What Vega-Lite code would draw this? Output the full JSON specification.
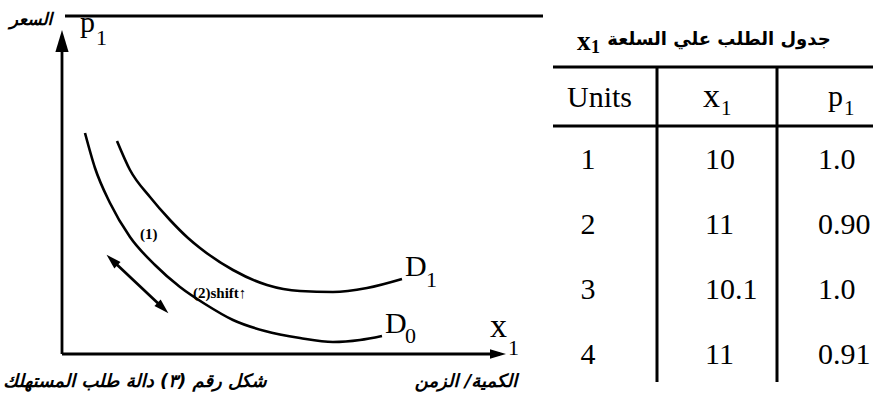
{
  "$schema": "https://vega.github.io/schema/vega-lite/v6.json",
  "background": "white",
  "padding": 0,
  "spacing": 0,
  "bounds": "flush",
  "config": {"view": {"stroke": null}},
  "datasets": {
    "demand": [
      {"curve": "D0", "q": 2.3, "p": 22.1},
      {"curve": "D0", "q": 3.3, "p": 18.6},
      {"curve": "D0", "q": 4.8, "p": 15.1},
      {"curve": "D0", "q": 6.8, "p": 11.7},
      {"curve": "D0", "q": 9.3, "p": 8.9},
      {"curve": "D0", "q": 11.8, "p": 6.7},
      {"curve": "D0", "q": 14.3, "p": 5.0},
      {"curve": "D0", "q": 17.1, "p": 3.4},
      {"curve": "D0", "q": 20.3, "p": 2.3},
      {"curve": "D0", "q": 23.8, "p": 1.6},
      {"curve": "D0", "q": 27.1, "p": 1.2},
      {"curve": "D0", "q": 29.8, "p": 1.4},
      {"curve": "D0", "q": 32.0, "p": 1.8},
      {"curve": "D1", "q": 5.5, "p": 21.3},
      {"curve": "D1", "q": 6.8, "p": 18.4},
      {"curve": "D1", "q": 8.8, "p": 15.7},
      {"curve": "D1", "q": 10.8, "p": 13.4},
      {"curve": "D1", "q": 12.6, "p": 11.6},
      {"curve": "D1", "q": 13.8, "p": 10.6},
      {"curve": "D1", "q": 17.1, "p": 8.4},
      {"curve": "D1", "q": 20.5, "p": 6.9},
      {"curve": "D1", "q": 23.8, "p": 6.3},
      {"curve": "D1", "q": 27.1, "p": 6.2},
      {"curve": "D1", "q": 30.5, "p": 6.6},
      {"curve": "D1", "q": 34.0, "p": 7.5}
    ],
    "schedule": [
      {"units": 1, "x1": "10", "p1": "1.0"},
      {"units": 2, "x1": "11", "p1": "0.90"},
      {"units": 3, "x1": "10.1", "p1": "1.0"},
      {"units": 4, "x1": "11", "p1": "0.91"}
    ]
  },
  "hconcat": [
    {
      "width": 545,
      "height": 402,
      "layer": [
        {
          "data": {"name": "demand"},
          "mark": {"type": "line", "color": "black", "strokeWidth": 2.6, "interpolate": "monotone"},
          "encoding": {
            "x": {"field": "q", "type": "quantitative", "scale": {"domain": [-6.2, 48.3], "nice": false, "zero": false}, "axis": null},
            "y": {"field": "p", "type": "quantitative", "scale": {"domain": [-4.8, 35.4], "nice": false, "zero": false}, "axis": null},
            "detail": {"field": "curve"},
            "order": {"field": "q"}
          }
        },
        {
          "data": {"values": [
            {"part": "price axis", "q": 0, "p": 0, "q2": 0, "p2": 31.5},
            {"part": "quantity axis", "q": 0, "p": 0, "q2": 43.8, "p2": 0},
            {"part": "ceiling", "q": 0.3, "p": 33.8, "q2": 48.1, "p2": 33.8},
            {"part": "movement", "q": 5.0, "p": 9.4, "q2": 10.1, "p2": 4.6}
          ]},
          "mark": {"type": "rule", "color": "black", "strokeWidth": 2.8},
          "encoding": {
            "x": {"field": "q", "type": "quantitative", "scale": {"domain": [-6.2, 48.3], "nice": false, "zero": false}, "axis": null},
            "y": {"field": "p", "type": "quantitative", "scale": {"domain": [-4.8, 35.4], "nice": false, "zero": false}, "axis": null},
            "x2": {"field": "q2"},
            "y2": {"field": "p2"}
          }
        },
        {
          "data": {"values": [{"q": 0, "p": 31.3}]},
          "mark": {"type": "point", "shape": "M0,-1L0.6,1L-0.6,1Z", "filled": true, "color": "black", "opacity": 1, "size": 484, "angle": 0},
          "encoding": {
            "x": {"field": "q", "type": "quantitative", "scale": {"domain": [-6.2, 48.3], "nice": false, "zero": false}, "axis": null},
            "y": {"field": "p", "type": "quantitative", "scale": {"domain": [-4.8, 35.4], "nice": false, "zero": false}, "axis": null}
          }
        },
        {
          "data": {"values": [{"q": 43.6, "p": 0}]},
          "mark": {"type": "point", "shape": "M0,-1L0.6,1L-0.6,1Z", "filled": true, "color": "black", "opacity": 1, "size": 256, "angle": 90},
          "encoding": {
            "x": {"field": "q", "type": "quantitative", "scale": {"domain": [-6.2, 48.3], "nice": false, "zero": false}, "axis": null},
            "y": {"field": "p", "type": "quantitative", "scale": {"domain": [-4.8, 35.4], "nice": false, "zero": false}, "axis": null}
          }
        },
        {
          "data": {"values": [{"q": 10.1, "p": 4.6}]},
          "mark": {"type": "point", "shape": "M0,-1L0.6,1L-0.6,1Z", "filled": true, "color": "black", "opacity": 1, "size": 225, "angle": 133.6},
          "encoding": {
            "x": {"field": "q", "type": "quantitative", "scale": {"domain": [-6.2, 48.3], "nice": false, "zero": false}, "axis": null},
            "y": {"field": "p", "type": "quantitative", "scale": {"domain": [-4.8, 35.4], "nice": false, "zero": false}, "axis": null}
          }
        },
        {
          "data": {"values": [{"q": 5.0, "p": 9.4}]},
          "mark": {"type": "point", "shape": "M0,-1L0.6,1L-0.6,1Z", "filled": true, "color": "black", "opacity": 1, "size": 225, "angle": 313.6},
          "encoding": {
            "x": {"field": "q", "type": "quantitative", "scale": {"domain": [-6.2, 48.3], "nice": false, "zero": false}, "axis": null},
            "y": {"field": "p", "type": "quantitative", "scale": {"domain": [-4.8, 35.4], "nice": false, "zero": false}, "axis": null}
          }
        },
        {
          "data": {"values": [
            {"q": 1.8, "p": 32.2, "t": "p"},
            {"q": 32.3, "p": 2.1, "t": "D"},
            {"q": 34.3, "p": 7.8, "t": "D"}
          ]},
          "mark": {"type": "text", "font": "Liberation Serif", "fontSize": 30, "align": "left", "baseline": "alphabetic", "color": "black"},
          "encoding": {
            "x": {"field": "q", "type": "quantitative", "scale": {"domain": [-6.2, 48.3], "nice": false, "zero": false}, "axis": null},
            "y": {"field": "p", "type": "quantitative", "scale": {"domain": [-4.8, 35.4], "nice": false, "zero": false}, "axis": null},
            "text": {"field": "t"}
          }
        },
        {
          "data": {"values": [{"q": 42.8, "p": 1.7, "t": "x"}]},
          "mark": {"type": "text", "font": "Liberation Serif", "fontSize": 34, "align": "left", "baseline": "alphabetic", "color": "black"},
          "encoding": {
            "x": {"field": "q", "type": "quantitative", "scale": {"domain": [-6.2, 48.3], "nice": false, "zero": false}, "axis": null},
            "y": {"field": "p", "type": "quantitative", "scale": {"domain": [-4.8, 35.4], "nice": false, "zero": false}, "axis": null},
            "text": {"field": "t"}
          }
        },
        {
          "data": {"values": [
            {"q": 3.4, "p": 30.9, "t": "1"},
            {"q": 34.3, "p": 1.1, "t": "0"},
            {"q": 36.4, "p": 6.7, "t": "1"},
            {"q": 44.6, "p": -0.1, "t": "1"}
          ]},
          "mark": {"type": "text", "font": "Liberation Serif", "fontSize": 22, "align": "left", "baseline": "alphabetic", "color": "black"},
          "encoding": {
            "x": {"field": "q", "type": "quantitative", "scale": {"domain": [-6.2, 48.3], "nice": false, "zero": false}, "axis": null},
            "y": {"field": "p", "type": "quantitative", "scale": {"domain": [-4.8, 35.4], "nice": false, "zero": false}, "axis": null},
            "text": {"field": "t"}
          }
        },
        {
          "data": {"values": [
            {"q": 7.8, "p": 11.5, "t": "(1)"},
            {"q": 13.1, "p": 5.6, "t": "(2)shift↑"}
          ]},
          "mark": {"type": "text", "font": "Liberation Serif", "fontSize": 15, "fontWeight": "bold", "align": "left", "baseline": "alphabetic", "color": "black"},
          "encoding": {
            "x": {"field": "q", "type": "quantitative", "scale": {"domain": [-6.2, 48.3], "nice": false, "zero": false}, "axis": null},
            "y": {"field": "p", "type": "quantitative", "scale": {"domain": [-4.8, 35.4], "nice": false, "zero": false}, "axis": null},
            "text": {"field": "t"}
          }
        },
        {
          "data": {"values": [
            {"q": 7.3, "p": -2.8, "t": "شكل رقم (٣) دالة طلب المستهلك"},
            {"q": 40.4, "p": -2.8, "t": "الكمية/ الزمن"}
          ]},
          "mark": {"type": "text", "font": "DejaVu Sans", "fontSize": 18, "fontWeight": "bold", "fontStyle": "italic", "align": "center", "baseline": "middle", "color": "black"},
          "encoding": {
            "x": {"field": "q", "type": "quantitative", "scale": {"domain": [-6.2, 48.3], "nice": false, "zero": false}, "axis": null},
            "y": {"field": "p", "type": "quantitative", "scale": {"domain": [-4.8, 35.4], "nice": false, "zero": false}, "axis": null},
            "text": {"field": "t"}
          }
        },
        {
          "data": {"values": [{"q": -3.1, "p": 33.4, "t": "السعر"}]},
          "mark": {"type": "text", "font": "DejaVu Sans", "fontSize": 17, "fontWeight": "bold", "fontStyle": "italic", "align": "center", "baseline": "middle", "color": "black"},
          "encoding": {
            "x": {"field": "q", "type": "quantitative", "scale": {"domain": [-6.2, 48.3], "nice": false, "zero": false}, "axis": null},
            "y": {"field": "p", "type": "quantitative", "scale": {"domain": [-4.8, 35.4], "nice": false, "zero": false}, "axis": null},
            "text": {"field": "t"}
          }
        }
      ]
    },
    {
      "width": 328,
      "height": 402,
      "layer": [
        {
          "data": {"values": [
            {"line": "top", "x": 0.8, "row": -0.431, "x2": 32.8, "row2": -0.431},
            {"line": "header", "x": 0.8, "row": 0.477, "x2": 32.8, "row2": 0.477},
            {"line": "units|x1", "x": 11.2, "row": -0.431, "x2": 11.2, "row2": 4.415},
            {"line": "x1|p1", "x": 23.2, "row": -0.431, "x2": 23.2, "row2": 4.415}
          ]},
          "mark": {"type": "rule", "color": "black", "strokeWidth": 3},
          "encoding": {
            "x": {"field": "x", "type": "quantitative", "scale": {"domain": [0, 32.8], "nice": false, "zero": false}, "axis": null},
            "y": {"field": "row", "type": "quantitative", "scale": {"domain": [-1.4615, 4.7231], "reverse": true, "nice": false, "zero": false}, "axis": null},
            "x2": {"field": "x2"},
            "y2": {"field": "row2"}
          }
        },
        {
          "data": {"values": [
            {"x": 2.2, "row": 0.185, "t": "Units"},
            {"x": 28.3, "row": 0.17, "t": "p"}
          ]},
          "mark": {"type": "text", "font": "Liberation Serif", "fontSize": 30, "align": "left", "baseline": "alphabetic", "color": "black"},
          "encoding": {
            "x": {"field": "x", "type": "quantitative", "scale": {"domain": [0, 32.8], "nice": false, "zero": false}, "axis": null},
            "y": {"field": "row", "type": "quantitative", "scale": {"domain": [-1.4615, 4.7231], "reverse": true, "nice": false, "zero": false}, "axis": null},
            "text": {"field": "t"}
          }
        },
        {
          "data": {"values": [{"x": 15.8, "row": 0.185, "t": "x"}]},
          "mark": {"type": "text", "font": "Liberation Serif", "fontSize": 34, "align": "left", "baseline": "alphabetic", "color": "black"},
          "encoding": {
            "x": {"field": "x", "type": "quantitative", "scale": {"domain": [0, 32.8], "nice": false, "zero": false}, "axis": null},
            "y": {"field": "row", "type": "quantitative", "scale": {"domain": [-1.4615, 4.7231], "reverse": true, "nice": false, "zero": false}, "axis": null},
            "text": {"field": "t"}
          }
        },
        {
          "data": {"values": [
            {"x": 17.6, "row": 0.308, "t": "1"},
            {"x": 29.9, "row": 0.308, "t": "1"}
          ]},
          "mark": {"type": "text", "font": "Liberation Serif", "fontSize": 21, "align": "left", "baseline": "alphabetic", "color": "black"},
          "encoding": {
            "x": {"field": "x", "type": "quantitative", "scale": {"domain": [0, 32.8], "nice": false, "zero": false}, "axis": null},
            "y": {"field": "row", "type": "quantitative", "scale": {"domain": [-1.4615, 4.7231], "reverse": true, "nice": false, "zero": false}, "axis": null},
            "text": {"field": "t"}
          }
        },
        {
          "data": {"name": "schedule"},
          "mark": {"type": "text", "font": "Liberation Serif", "fontSize": 30, "align": "center", "baseline": "middle", "color": "black"},
          "encoding": {
            "x": {"datum": 4.3, "type": "quantitative", "scale": {"domain": [0, 32.8], "nice": false, "zero": false}, "axis": null},
            "y": {"field": "units", "type": "quantitative", "scale": {"domain": [-1.4615, 4.7231], "reverse": true, "nice": false, "zero": false}, "axis": null},
            "text": {"field": "units"}
          }
        },
        {
          "data": {"name": "schedule"},
          "mark": {"type": "text", "font": "Liberation Serif", "fontSize": 30, "align": "left", "baseline": "middle", "color": "black"},
          "encoding": {
            "x": {"datum": 16.0, "type": "quantitative", "scale": {"domain": [0, 32.8], "nice": false, "zero": false}, "axis": null},
            "y": {"field": "units", "type": "quantitative", "scale": {"domain": [-1.4615, 4.7231], "reverse": true, "nice": false, "zero": false}, "axis": null},
            "text": {"field": "x1"}
          }
        },
        {
          "data": {"name": "schedule"},
          "mark": {"type": "text", "font": "Liberation Serif", "fontSize": 30, "align": "left", "baseline": "middle", "color": "black"},
          "encoding": {
            "x": {"datum": 27.3, "type": "quantitative", "scale": {"domain": [0, 32.8], "nice": false, "zero": false}, "axis": null},
            "y": {"field": "units", "type": "quantitative", "scale": {"domain": [-1.4615, 4.7231], "reverse": true, "nice": false, "zero": false}, "axis": null},
            "text": {"field": "p1"}
          }
        },
        {
          "data": {"values": [{"x": 3.2, "row": -0.692, "t": "x"}]},
          "mark": {"type": "text", "font": "Liberation Serif", "fontSize": 27, "fontWeight": "bold", "align": "left", "baseline": "alphabetic", "color": "black"},
          "encoding": {
            "x": {"field": "x", "type": "quantitative", "scale": {"domain": [0, 32.8], "nice": false, "zero": false}, "axis": null},
            "y": {"field": "row", "type": "quantitative", "scale": {"domain": [-1.4615, 4.7231], "reverse": true, "nice": false, "zero": false}, "axis": null},
            "text": {"field": "t"}
          }
        },
        {
          "data": {"values": [{"x": 4.6, "row": -0.646, "t": "1"}]},
          "mark": {"type": "text", "font": "Liberation Serif", "fontSize": 18, "fontWeight": "bold", "align": "left", "baseline": "alphabetic", "color": "black"},
          "encoding": {
            "x": {"field": "x", "type": "quantitative", "scale": {"domain": [0, 32.8], "nice": false, "zero": false}, "axis": null},
            "y": {"field": "row", "type": "quantitative", "scale": {"domain": [-1.4615, 4.7231], "reverse": true, "nice": false, "zero": false}, "axis": null},
            "text": {"field": "t"}
          }
        },
        {
          "data": {"values": [{"x": 17.4, "row": -0.846, "t": "جدول الطلب علي السلعة"}]},
          "mark": {"type": "text", "font": "DejaVu Sans", "fontSize": 18, "fontWeight": "bold", "align": "center", "baseline": "middle", "color": "black"},
          "encoding": {
            "x": {"field": "x", "type": "quantitative", "scale": {"domain": [0, 32.8], "nice": false, "zero": false}, "axis": null},
            "y": {"field": "row", "type": "quantitative", "scale": {"domain": [-1.4615, 4.7231], "reverse": true, "nice": false, "zero": false}, "axis": null},
            "text": {"field": "t"}
          }
        }
      ]
    }
  ]
}
